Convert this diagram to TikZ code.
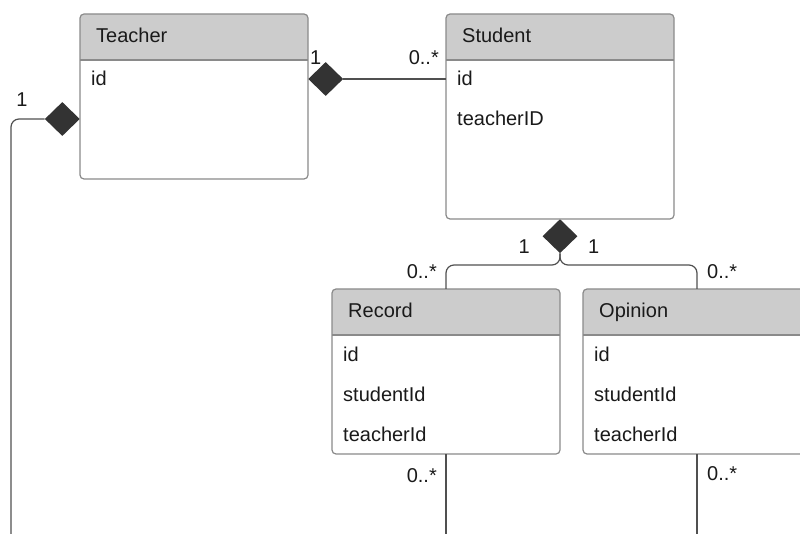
\documentclass[tikz,border=0pt]{standalone}
\usepackage{fontspec}
\setmainfont{Liberation Sans}
\usetikzlibrary{shapes.geometric,calc}

\definecolor{boxline}{HTML}{8A8A8A}
\definecolor{headfill}{HTML}{CCCCCC}
\definecolor{linkline}{HTML}{505050}
\definecolor{diamfill}{HTML}{333333}
\definecolor{txt}{HTML}{1A1A1A}

\begin{document}
\begin{tikzpicture}[x=1pt, y=-1pt,
  every node/.style={font=\fontsize{20}{24}\selectfont, text=txt},
  classbox/.style={fill=white, inner sep=0, outer sep=0, minimum width=228pt, anchor=north west},
  outline/.style={draw=boxline, line width=1.2pt, rounded corners=4pt},
  field/.style={anchor=base west, inner sep=0},
  diam/.style={diamond, fill=diamfill, inner sep=0, minimum width=35pt, minimum height=34pt},
  link/.style={draw=linkline, line width=1.2pt, rounded corners=8pt},
  mult/.style={inner sep=0}]

\useasboundingbox (0,0) rectangle (800,534);
\clip (0,0) rectangle (800,534);

%Teacher box
\node [classbox, minimum height=165pt] (teacher) at (80,14) {};
\fill [headfill, rounded corners=4pt] (teacher.north west) rectangle ($(teacher.north east)+(0,46)$);
\fill [headfill] ($(teacher.north west)+(0,20)$) rectangle ($(teacher.north east)+(0,46)$);
\draw [boxline, line width=1.2pt] ($(teacher.north west)+(0,46)$) -- ($(teacher.north east)+(0,46)$);
\draw [outline] (teacher.north west) rectangle (teacher.south east);
\node [field] (teachertitle) at ($(teacher.north west)+(16,29)$) {Teacher};
\node [field] (teacherid) at ($(teacher.north west)+(11,72)$) {id};

%Student box
\node [classbox, minimum height=205pt] (student) at (446,14) {};
\fill [headfill, rounded corners=4pt] (student.north west) rectangle ($(student.north east)+(0,46)$);
\fill [headfill] ($(student.north west)+(0,20)$) rectangle ($(student.north east)+(0,46)$);
\draw [boxline, line width=1.2pt] ($(student.north west)+(0,46)$) -- ($(student.north east)+(0,46)$);
\draw [outline] (student.north west) rectangle (student.south east);
\node [field] (studenttitle) at ($(student.north west)+(16,29)$) {Student};
\node [field] (studentid) at ($(student.north west)+(11,72)$) {id};
\node [field] (studentteacher) at ($(student.north west)+(11,112)$) {teacherID};

%Record box
\node [classbox, minimum height=165pt] (record) at (332,289) {};
\fill [headfill, rounded corners=4pt] (record.north west) rectangle ($(record.north east)+(0,46)$);
\fill [headfill] ($(record.north west)+(0,20)$) rectangle ($(record.north east)+(0,46)$);
\draw [boxline, line width=1.2pt] ($(record.north west)+(0,46)$) -- ($(record.north east)+(0,46)$);
\draw [outline] (record.north west) rectangle (record.south east);
\node [field] (recordtitle) at ($(record.north west)+(16,29)$) {Record};
\node [field] (recordid) at ($(record.north west)+(11,72)$) {id};
\node [field] (recordstudent) at ($(record.north west)+(11,112)$) {studentId};
\node [field] (recordteacher) at ($(record.north west)+(11,152)$) {teacherId};

%Opinion box
\node [classbox, minimum height=165pt] (opinion) at (583,289) {};
\fill [headfill, rounded corners=4pt] (opinion.north west) rectangle ($(opinion.north east)+(0,46)$);
\fill [headfill] ($(opinion.north west)+(0,20)$) rectangle ($(opinion.north east)+(0,46)$);
\draw [boxline, line width=1.2pt] ($(opinion.north west)+(0,46)$) -- ($(opinion.north east)+(0,46)$);
\draw [outline] (opinion.north west) rectangle (opinion.south east);
\node [field] (opiniontitle) at ($(opinion.north west)+(16,29)$) {Opinion};
\node [field] (opinionid) at ($(opinion.north west)+(11,72)$) {id};
\node [field] (opinionstudent) at ($(opinion.north west)+(11,112)$) {studentId};
\node [field] (opinionteacher) at ($(opinion.north west)+(11,152)$) {teacherId};

%Teacher - Student link
\node [diam, anchor=west] (tsdiam) at ($(teacher.north east)+(0,65)$) {};
\draw [link] (tsdiam.east) -- (tsdiam.east -| student.west);
\node [mult, anchor=base west] (tsone) at ($(tsdiam.west)+(2,-14)$) {1};
\node [mult, anchor=base east] (tsmany) at ($(tsdiam.east -| student.west)+(-7,-14)$) {0..*};

%Teacher link to the left
\node [diam, anchor=east] (tldiam) at ($(teacher.north west)+(0,105)$) {};
\coordinate (tlend) at (11,534);
\draw [link] (tldiam.west) -| (tlend);
\node [mult, anchor=base east] (tlone) at ($(tldiam.west)+(-17,-12)$) {1};

%Student - Record / Opinion links
\node [diam, anchor=north] (sdiam) at (student.south) {};
\draw [link] (sdiam.south) |- ($(record.north)+(0,-24)$) -- (record.north);
\draw [link] (sdiam.south) |- ($(opinion.north)+(0,-24)$) -- (opinion.north);
\node [mult, anchor=base east] (srone) at ($(sdiam.south)+(-30,0)$) {1};
\node [mult, anchor=base west] (soone) at ($(sdiam.south)+(28,0)$) {1};
\node [mult, anchor=base east] (srmany) at ($(record.north)+(-9,-10)$) {0..*};
\node [mult, anchor=base west] (somany) at ($(opinion.north)+(10,-10)$) {0..*};

%Links below Record and Opinion
\coordinate (recend) at (record.south |- 0,534);
\coordinate (opiend) at (opinion.south |- 0,534);
\draw [link] (record.south) -- (recend);
\draw [link] (opinion.south) -- (opiend);
\node [mult, anchor=base east] (rbmany) at ($(record.south)+(-9,28)$) {0..*};
\node [mult, anchor=base west] (obmany) at ($(opinion.south)+(10,26)$) {0..*};

\end{tikzpicture}
\end{document}
